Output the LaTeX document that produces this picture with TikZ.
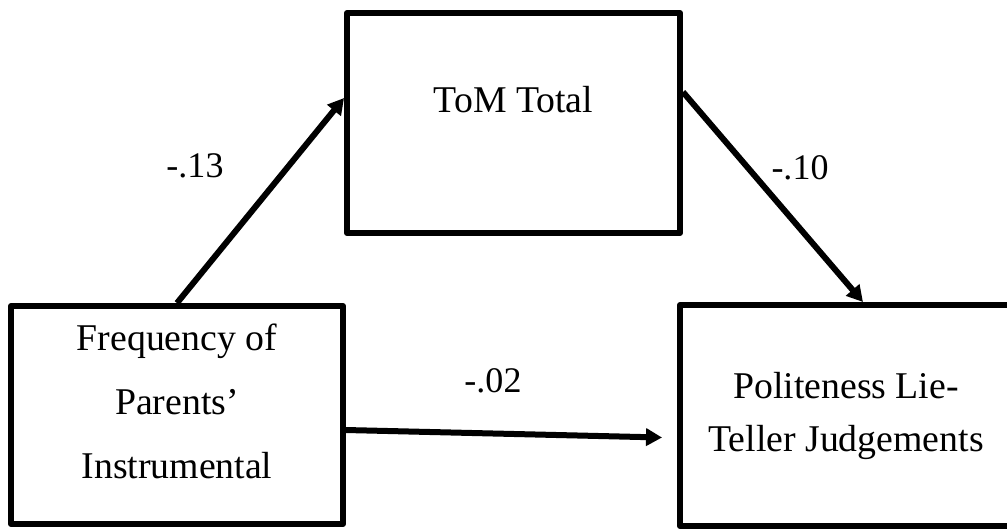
\documentclass[tikz,border=0pt]{standalone}
\usepackage{fontspec}
\setmainfont{Liberation Serif}
\usetikzlibrary{arrows.meta, positioning}
\tikzset{
  box/.style={rectangle, draw=black, line width=0.12cm, line join=round,
    minimum width=6.64cm, minimum height=4.38cm, align=center, inner sep=0pt,
    font=\fontsize{21.5}{26}\selectfont},
  arrow/.style={-{Triangle[length=0.32cm, width=0.34cm]}, line width=0.12cm},
  coef/.style={font=\fontsize{20.5}{24}\selectfont}
}

\begin{document}
\begin{tikzpicture}[x=0.02cm, y=-0.02cm]
  \useasboundingbox (0,0) rectangle (1007,529);

  % Boxes
  \node[box, font=\fontsize{21.5}{36.4}\selectfont, minimum height=4.36cm, text depth=0.56cm] (freq) at (177,415) {Frequency of\\Parents’\\Instrumental};
  \node[box, minimum width=6.66cm, minimum height=4.4cm, text depth=0.94cm] (tom) at (513.5,123) {ToM Total};
  \node[box, font=\fontsize{21.5}{30.2}\selectfont, minimum height=4.42cm] (lie) at (846,415.5) {Politeness Lie-\\Teller Judgements};

  % Paths
  \draw[arrow] (freq.north) -- ([yshift=0.5cm]tom.west);
  \draw[arrow] ([yshift=0.62cm]tom.east) -- ([xshift=0.34cm]lie.north);
  \draw[arrow] ([yshift=-0.3cm]freq.east) -- ([xshift=-0.3cm, yshift=-0.44cm]lie.west);

  % Coefficients
  \node[coef] (c13) at (195,166) {-.13};
  \node[coef] (c10) at (800,168) {-.10};
  \node[coef] (c02) at (493,381) {-.02};
\end{tikzpicture}
\end{document}
